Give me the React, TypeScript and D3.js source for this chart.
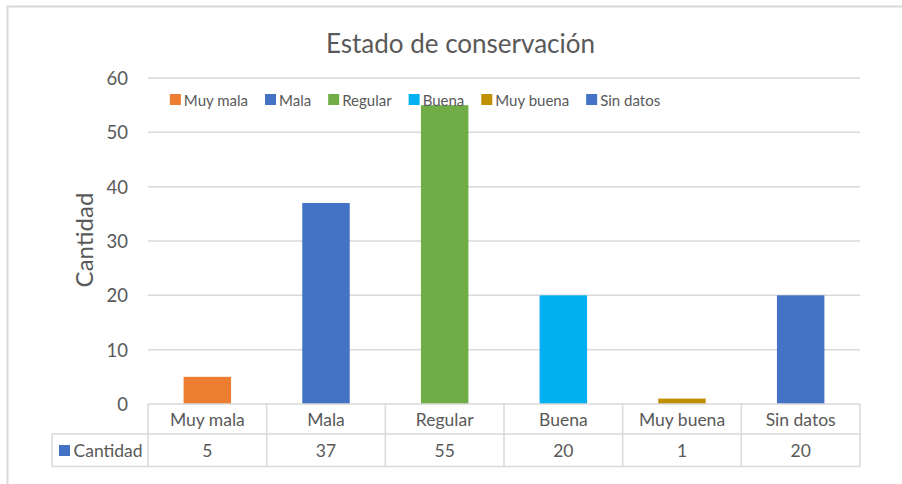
import React, { useEffect, useRef } from "react";
import * as d3 from "d3";

const categories = ["Muy mala", "Mala", "Regular", "Buena", "Muy buena", "Sin datos"];
const values = [5, 37, 55, 20, 1, 20];
const colors = ["#ED7D31", "#4472C4", "#70AD47", "#00B0F0", "#BF9000", "#4472C4"];
const yTicks = [0, 10, 20, 30, 40, 50, 60];
const title = "Estado de conservación";
const yTitle = "Cantidad";
const seriesName = "Cantidad";

const W = 902, H = 484;
const FONT = "Lato, 'Open Sans', sans-serif";
const TXT = "#595959";
const GRID = "#D9D9D9";

export default function App() {
  const ref = useRef<SVGSVGElement>(null);
  useEffect(() => {
    const svg = d3.select(ref.current);
    svg.selectAll("*").remove();
    const left = 148, right = 860, top = 78, bottom = 404;
    const x = d3.scaleBand<string>().domain(categories).range([left, right]).paddingInner(0.6).paddingOuter(0.3);
    const xb = d3.scaleBand<string>().domain(categories).range([left, right]);
    const y = d3.scaleLinear().domain([0, 60]).range([bottom, top]);

    svg.append("rect").attr("x", 7.5).attr("y", 6.5).attr("width", 920).attr("height", 500)
      .attr("fill", "#fff").attr("stroke", GRID).attr("stroke-width", 2);

    svg.append("text").attr("x", 460.5).attr("y", 53).attr("text-anchor", "middle")
      .attr("font-family", FONT).attr("font-size", 26).attr("fill", TXT).text(title);

    // grid
    svg.append("g").selectAll("line").data(yTicks.filter(t => t > 0)).join("line")
      .attr("x1", left).attr("x2", right).attr("y1", d => y(d)).attr("y2", d => y(d))
      .attr("stroke", GRID).attr("stroke-width", 1.5);
    svg.append("g").selectAll("text").data(yTicks).join("text")
      .attr("x", 128).attr("y", d => y(d) + 7).attr("text-anchor", "end")
      .attr("font-family", FONT).attr("font-size", 18.5).attr("fill", TXT).text(d => d);

    svg.append("text").attr("transform", `translate(93,240) rotate(-90)`).attr("text-anchor", "middle")
      .attr("font-family", FONT).attr("font-size", 24).attr("fill", TXT).text(yTitle);

    // bars
    svg.append("g").selectAll("rect").data(categories).join("rect")
      .attr("x", d => x(d)!).attr("width", x.bandwidth())
      .attr("y", (d, i) => y(values[i])).attr("height", (d, i) => bottom - y(values[i]))
      .attr("fill", (d, i) => colors[i]);

    // table
    const tg = svg.append("g");
    const r1 = bottom, r2 = 434, r3 = 466.5;
    const tableLeft = 52;
    const line = (x1: number, y1: number, x2: number, y2: number) =>
      tg.append("line").attr("x1", x1).attr("y1", y1).attr("x2", x2).attr("y2", y2)
        .attr("stroke", GRID).attr("stroke-width", 1.5);
    line(left, r1, right, r1);
    line(tableLeft, r2, right, r2);
    line(tableLeft, r3, right, r3);
    line(tableLeft, r2, tableLeft, r3);
    categories.forEach(c => line(xb(c)!, r1, xb(c)!, r3));
    line(right, r1, right, r3);
    tg.selectAll("text.cat").data(categories).join("text").attr("class", "cat")
      .attr("x", d => xb(d)! + xb.bandwidth() / 2).attr("y", 425.5).attr("text-anchor", "middle")
      .attr("font-family", FONT).attr("font-size", 17.5).attr("fill", TXT).text(d => d);
    tg.selectAll("text.val").data(categories).join("text").attr("class", "val")
      .attr("x", d => xb(d)! + xb.bandwidth() / 2).attr("y", 456.5).attr("text-anchor", "middle")
      .attr("font-family", FONT).attr("font-size", 17.5).attr("fill", TXT).text((d, i) => values[i]);
    tg.append("rect").attr("x", 59).attr("y", 445).attr("width", 11).attr("height", 11).attr("fill", "#4472C4");
    tg.append("text").attr("x", 73.5).attr("y", 456.5)
      .attr("font-family", FONT).attr("font-size", 17.5).attr("fill", TXT).text(seriesName);

    // legend
    const lg = svg.append("g");
    const items = lg.selectAll("g").data(categories).join("g");
    items.append("rect").attr("width", 11).attr("height", 11).attr("y", 94).attr("fill", (d, i) => colors[i]);
    const texts = items.append("text").attr("x", 14).attr("y", 105.5)
      .attr("font-family", FONT).attr("font-size", 15).attr("fill", TXT).text(d => d);
    const widths: number[] = [];
    texts.each(function () { widths.push((this as SVGTextElement).getComputedTextLength()); });
    const gap = 17;
    const total = d3.sum(widths.map(w => w + 14)) + gap * (widths.length - 1);
    let cx = 415 - total / 2;
    items.attr("transform", (d, i) => { const t = `translate(${cx},0)`; cx += widths[i] + 14 + gap; return t; });
  }, []);
  return <svg ref={ref} width={W} height={H} style={{ display: "block", position: "absolute", left: 0, top: 0 }} />;
}
